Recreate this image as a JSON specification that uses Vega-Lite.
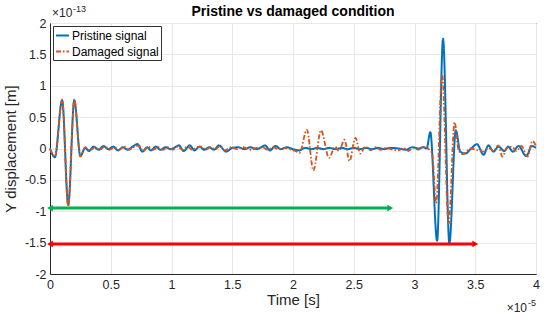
{
  "$schema": "https://vega.github.io/schema/vega-lite/v6.json",
  "width": 486,
  "height": 251,
  "autosize": {"type": "none"},
  "padding": {"left": 50, "top": 23, "right": 14, "bottom": 46},
  "background": "white",
  "title": {"text": "Pristine vs damaged condition", "font": "Liberation Sans", "fontSize": 14, "fontWeight": "bold", "color": "#000000", "offset": 0, "baseline": "alphabetic", "dy": 25},
  "config": {
    "view": {"stroke": "#262626", "strokeWidth": 1},
    "axis": {
      "labelFont": "Liberation Sans", "labelFontSize": 12.5, "labelColor": "#262626",
      "titleFont": "Liberation Sans", "titleFontSize": 15, "titleFontWeight": "normal", "titleColor": "#262626",
      "domainColor": "#262626", "gridColor": "#e8e8e8", "gridWidth": 1,
      "tickColor": "#262626", "tickSize": 4
    },
    "legend": {
      "labelFont": "Liberation Sans", "labelFontSize": 12, "labelColor": "#000000"
    }
  },
  "datasets": {
    "signals": [
      {"series": "Pristine signal", "t": 0, "y": 0},
      {"series": "Pristine signal", "t": 0.04, "y": -0.14},
      {"series": "Pristine signal", "t": 0.1, "y": 0.77},
      {"series": "Pristine signal", "t": 0.15, "y": -0.9},
      {"series": "Pristine signal", "t": 0.2, "y": 0.77},
      {"series": "Pristine signal", "t": 0.25, "y": -0.12},
      {"series": "Pristine signal", "t": 0.29, "y": 0.01},
      {"series": "Pristine signal", "t": 0.32, "y": -0.04},
      {"series": "Pristine signal", "t": 0.36, "y": 0.03},
      {"series": "Pristine signal", "t": 0.4, "y": -0.02},
      {"series": "Pristine signal", "t": 0.44, "y": 0.04},
      {"series": "Pristine signal", "t": 0.48, "y": -0.01},
      {"series": "Pristine signal", "t": 0.52, "y": 0.03},
      {"series": "Pristine signal", "t": 0.56, "y": -0.03},
      {"series": "Pristine signal", "t": 0.6, "y": 0.02},
      {"series": "Pristine signal", "t": 0.64, "y": -0.02},
      {"series": "Pristine signal", "t": 0.68, "y": 0.03},
      {"series": "Pristine signal", "t": 0.72, "y": 0.07},
      {"series": "Pristine signal", "t": 0.76, "y": -0.05},
      {"series": "Pristine signal", "t": 0.8, "y": 0.02},
      {"series": "Pristine signal", "t": 0.83, "y": -0.03},
      {"series": "Pristine signal", "t": 0.87, "y": 0.03},
      {"series": "Pristine signal", "t": 0.91, "y": -0.02},
      {"series": "Pristine signal", "t": 0.95, "y": 0.02},
      {"series": "Pristine signal", "t": 0.99, "y": -0.01},
      {"series": "Pristine signal", "t": 1.03, "y": 0.02},
      {"series": "Pristine signal", "t": 1.06, "y": 0.05},
      {"series": "Pristine signal", "t": 1.1, "y": -0.04},
      {"series": "Pristine signal", "t": 1.15, "y": 0.05},
      {"series": "Pristine signal", "t": 1.19, "y": -0.03},
      {"series": "Pristine signal", "t": 1.23, "y": 0.03},
      {"series": "Pristine signal", "t": 1.27, "y": -0.02},
      {"series": "Pristine signal", "t": 1.31, "y": 0.02},
      {"series": "Pristine signal", "t": 1.35, "y": -0.02},
      {"series": "Pristine signal", "t": 1.39, "y": 0.05},
      {"series": "Pristine signal", "t": 1.45, "y": -0.05},
      {"series": "Pristine signal", "t": 1.5, "y": 0.01},
      {"series": "Pristine signal", "t": 1.55, "y": 0.02},
      {"series": "Pristine signal", "t": 1.6, "y": -0.01},
      {"series": "Pristine signal", "t": 1.65, "y": 0.02},
      {"series": "Pristine signal", "t": 1.7, "y": -0.01},
      {"series": "Pristine signal", "t": 1.74, "y": 0.02},
      {"series": "Pristine signal", "t": 1.77, "y": 0.05},
      {"series": "Pristine signal", "t": 1.81, "y": -0.03},
      {"series": "Pristine signal", "t": 1.855, "y": 0.04},
      {"series": "Pristine signal", "t": 1.9, "y": -0.01},
      {"series": "Pristine signal", "t": 1.95, "y": 0.02},
      {"series": "Pristine signal", "t": 2.0, "y": -0.01},
      {"series": "Pristine signal", "t": 2.05, "y": -0.03},
      {"series": "Pristine signal", "t": 2.1, "y": 0.01},
      {"series": "Pristine signal", "t": 2.15, "y": -0.01},
      {"series": "Pristine signal", "t": 2.2, "y": 0.01},
      {"series": "Pristine signal", "t": 2.25, "y": -0.01},
      {"series": "Pristine signal", "t": 2.3, "y": 0.01},
      {"series": "Pristine signal", "t": 2.35, "y": -0.01},
      {"series": "Pristine signal", "t": 2.4, "y": 0.01},
      {"series": "Pristine signal", "t": 2.45, "y": -0.01},
      {"series": "Pristine signal", "t": 2.5, "y": 0.01},
      {"series": "Pristine signal", "t": 2.55, "y": -0.01},
      {"series": "Pristine signal", "t": 2.6, "y": 0.01},
      {"series": "Pristine signal", "t": 2.65, "y": -0.01},
      {"series": "Pristine signal", "t": 2.7, "y": 0.01},
      {"series": "Pristine signal", "t": 2.75, "y": -0.01},
      {"series": "Pristine signal", "t": 2.8, "y": 0.01},
      {"series": "Pristine signal", "t": 2.87, "y": 0},
      {"series": "Pristine signal", "t": 2.93, "y": -0.02},
      {"series": "Pristine signal", "t": 2.98, "y": 0.02},
      {"series": "Pristine signal", "t": 3.035, "y": 0},
      {"series": "Pristine signal", "t": 3.075, "y": 0.02},
      {"series": "Pristine signal", "t": 3.1, "y": 0},
      {"series": "Pristine signal", "t": 3.13, "y": 0.26},
      {"series": "Pristine signal", "t": 3.186, "y": -1.47},
      {"series": "Pristine signal", "t": 3.235, "y": 1.75},
      {"series": "Pristine signal", "t": 3.287, "y": -1.51},
      {"series": "Pristine signal", "t": 3.34, "y": 0.29},
      {"series": "Pristine signal", "t": 3.377, "y": -0.05},
      {"series": "Pristine signal", "t": 3.418, "y": -0.08},
      {"series": "Pristine signal", "t": 3.467, "y": 0},
      {"series": "Pristine signal", "t": 3.514, "y": 0.07},
      {"series": "Pristine signal", "t": 3.568, "y": -0.1},
      {"series": "Pristine signal", "t": 3.609, "y": 0.05},
      {"series": "Pristine signal", "t": 3.65, "y": -0.05},
      {"series": "Pristine signal", "t": 3.69, "y": 0.03},
      {"series": "Pristine signal", "t": 3.74, "y": -0.04},
      {"series": "Pristine signal", "t": 3.77, "y": 0.03},
      {"series": "Pristine signal", "t": 3.81, "y": -0.05},
      {"series": "Pristine signal", "t": 3.855, "y": 0.04},
      {"series": "Pristine signal", "t": 3.92, "y": -0.12},
      {"series": "Pristine signal", "t": 3.965, "y": 0.04},
      {"series": "Pristine signal", "t": 4.0, "y": 0.01},
      {"series": "Damaged signal", "t": 0, "y": 0},
      {"series": "Damaged signal", "t": 0.04, "y": -0.13},
      {"series": "Damaged signal", "t": 0.1, "y": 0.78},
      {"series": "Damaged signal", "t": 0.15, "y": -0.92},
      {"series": "Damaged signal", "t": 0.2, "y": 0.78},
      {"series": "Damaged signal", "t": 0.25, "y": -0.13},
      {"series": "Damaged signal", "t": 0.29, "y": 0.02},
      {"series": "Damaged signal", "t": 0.33, "y": -0.03},
      {"series": "Damaged signal", "t": 0.37, "y": 0.02},
      {"series": "Damaged signal", "t": 0.41, "y": -0.02},
      {"series": "Damaged signal", "t": 0.45, "y": 0.03},
      {"series": "Damaged signal", "t": 0.49, "y": -0.02},
      {"series": "Damaged signal", "t": 0.53, "y": 0.02},
      {"series": "Damaged signal", "t": 0.57, "y": -0.02},
      {"series": "Damaged signal", "t": 0.61, "y": 0.03},
      {"series": "Damaged signal", "t": 0.65, "y": -0.02},
      {"series": "Damaged signal", "t": 0.69, "y": 0.02},
      {"series": "Damaged signal", "t": 0.73, "y": 0.05},
      {"series": "Damaged signal", "t": 0.77, "y": -0.04},
      {"series": "Damaged signal", "t": 0.81, "y": 0.03},
      {"series": "Damaged signal", "t": 0.85, "y": -0.02},
      {"series": "Damaged signal", "t": 0.89, "y": 0.02},
      {"series": "Damaged signal", "t": 0.93, "y": -0.02},
      {"series": "Damaged signal", "t": 0.97, "y": 0.02},
      {"series": "Damaged signal", "t": 1.01, "y": -0.02},
      {"series": "Damaged signal", "t": 1.05, "y": 0.03},
      {"series": "Damaged signal", "t": 1.09, "y": -0.02},
      {"series": "Damaged signal", "t": 1.13, "y": 0.03},
      {"series": "Damaged signal", "t": 1.17, "y": -0.02},
      {"series": "Damaged signal", "t": 1.21, "y": 0.02},
      {"series": "Damaged signal", "t": 1.25, "y": 0.03},
      {"series": "Damaged signal", "t": 1.28, "y": -0.02},
      {"series": "Damaged signal", "t": 1.32, "y": 0.02},
      {"series": "Damaged signal", "t": 1.36, "y": -0.01},
      {"series": "Damaged signal", "t": 1.4, "y": 0.04},
      {"series": "Damaged signal", "t": 1.44, "y": -0.03},
      {"series": "Damaged signal", "t": 1.49, "y": 0.02},
      {"series": "Damaged signal", "t": 1.54, "y": -0.01},
      {"series": "Damaged signal", "t": 1.59, "y": 0.02},
      {"series": "Damaged signal", "t": 1.63, "y": -0.01},
      {"series": "Damaged signal", "t": 1.66, "y": -0.02},
      {"series": "Damaged signal", "t": 1.7, "y": 0.01},
      {"series": "Damaged signal", "t": 1.75, "y": 0.02},
      {"series": "Damaged signal", "t": 1.79, "y": -0.02},
      {"series": "Damaged signal", "t": 1.84, "y": 0.02},
      {"series": "Damaged signal", "t": 1.88, "y": -0.01},
      {"series": "Damaged signal", "t": 1.93, "y": 0.01},
      {"series": "Damaged signal", "t": 1.97, "y": -0.01},
      {"series": "Damaged signal", "t": 2.02, "y": -0.04},
      {"series": "Damaged signal", "t": 2.054, "y": -0.07},
      {"series": "Damaged signal", "t": 2.114, "y": 0.3},
      {"series": "Damaged signal", "t": 2.168, "y": -0.35},
      {"series": "Damaged signal", "t": 2.23, "y": 0.29},
      {"series": "Damaged signal", "t": 2.297, "y": -0.15},
      {"series": "Damaged signal", "t": 2.346, "y": 0.03},
      {"series": "Damaged signal", "t": 2.378, "y": -0.04},
      {"series": "Damaged signal", "t": 2.424, "y": 0.14},
      {"series": "Damaged signal", "t": 2.465, "y": -0.2},
      {"series": "Damaged signal", "t": 2.514, "y": 0.17},
      {"series": "Damaged signal", "t": 2.554, "y": -0.08},
      {"series": "Damaged signal", "t": 2.595, "y": 0.03},
      {"series": "Damaged signal", "t": 2.64, "y": -0.03},
      {"series": "Damaged signal", "t": 2.68, "y": 0.02},
      {"series": "Damaged signal", "t": 2.72, "y": -0.02},
      {"series": "Damaged signal", "t": 2.77, "y": 0.01},
      {"series": "Damaged signal", "t": 2.82, "y": -0.02},
      {"series": "Damaged signal", "t": 2.87, "y": -0.03},
      {"series": "Damaged signal", "t": 2.91, "y": 0.01},
      {"series": "Damaged signal", "t": 2.95, "y": -0.04},
      {"series": "Damaged signal", "t": 2.99, "y": 0.01},
      {"series": "Damaged signal", "t": 3.03, "y": -0.02},
      {"series": "Damaged signal", "t": 3.075, "y": 0.03},
      {"series": "Damaged signal", "t": 3.117, "y": -0.01},
      {"series": "Damaged signal", "t": 3.145, "y": -0.08},
      {"series": "Damaged signal", "t": 3.178, "y": -0.87},
      {"series": "Damaged signal", "t": 3.227, "y": 1.18},
      {"series": "Damaged signal", "t": 3.281, "y": -1.2},
      {"series": "Damaged signal", "t": 3.33, "y": 0.42},
      {"series": "Damaged signal", "t": 3.363, "y": -0.03},
      {"series": "Damaged signal", "t": 3.4, "y": -0.09},
      {"series": "Damaged signal", "t": 3.46, "y": 0},
      {"series": "Damaged signal", "t": 3.51, "y": -0.02},
      {"series": "Damaged signal", "t": 3.568, "y": -0.05},
      {"series": "Damaged signal", "t": 3.61, "y": 0.01},
      {"series": "Damaged signal", "t": 3.65, "y": -0.04},
      {"series": "Damaged signal", "t": 3.69, "y": 0.05},
      {"series": "Damaged signal", "t": 3.724, "y": -0.13},
      {"series": "Damaged signal", "t": 3.76, "y": 0.01},
      {"series": "Damaged signal", "t": 3.8, "y": 0.03},
      {"series": "Damaged signal", "t": 3.84, "y": -0.04},
      {"series": "Damaged signal", "t": 3.88, "y": 0.04},
      {"series": "Damaged signal", "t": 3.93, "y": -0.13},
      {"series": "Damaged signal", "t": 3.97, "y": 0.12},
      {"series": "Damaged signal", "t": 4.0, "y": 0.04}
    ],
    "arrows": [
      {"arrow": "A", "x0": 0, "x1": 2.8, "y": -0.95},
      {"arrow": "B", "x0": 0, "x1": 3.5, "y": -1.52}
    ],
    "notes": [
      {"key": "yexp", "t": 0, "y": 2},
      {"key": "xexp", "t": 4, "y": -2}
    ]
  },
  "encoding": {
    "x": {"field": "t", "type": "quantitative", "scale": {"domain": [0, 4], "nice": false},
      "axis": {"title": "Time [s]", "values": [0, 0.5, 1, 1.5, 2, 2.5, 3, 3.5, 4], "labelExpr": "replace(format(datum.value, '~g'), '\u2212', '-')", "ticks": false, "labelPadding": 4, "titlePadding": 2, "labelFlush": false}},
    "y": {"field": "y", "type": "quantitative", "scale": {"domain": [-2, 2], "nice": false},
      "axis": {"title": "Y displacement [m]", "values": [-2, -1.5, -1, -0.5, 0, 0.5, 1, 1.5, 2], "labelExpr": "replace(format(datum.value, '~g'), '\u2212', '-')", "ticks": false, "labelPadding": 4, "titlePadding": 6, "labelFlush": false}}
  },
  "layer": [
    {
      "data": {"name": "signals"},
      "transform": [{"filter": "datum.series === 'Pristine signal'"}],
      "mark": {"type": "line", "interpolate": "monotone", "strokeWidth": 2},
      "encoding": {
        "color": {"field": "series", "type": "nominal", "scale": {"domain": ["Pristine signal", "Damaged signal"], "range": ["#0072BD", "#D95319"]},
          "legend": {"title": null, "orient": "top-left", "offset": 3, "padding": 2, "fillColor": "white", "strokeColor": "#333333", "symbolType": "stroke", "symbolStrokeWidth": 2, "symbolSize": 169, "labelOffset": 2, "rowPadding": 2}},
        "strokeDash": {"field": "series", "type": "nominal", "scale": {"domain": ["Pristine signal", "Damaged signal"], "range": [[1, 0], [5, 2, 1.5, 2]]},
          "legend": {"title": null, "orient": "top-left", "offset": 3, "padding": 2, "fillColor": "white", "strokeColor": "#333333", "symbolType": "stroke", "symbolStrokeWidth": 2, "symbolSize": 169, "labelOffset": 2, "rowPadding": 2}}
      }
    },
    {
      "data": {"name": "signals"},
      "transform": [{"filter": "datum.series === 'Damaged signal'"}],
      "mark": {"type": "line", "interpolate": "monotone", "strokeWidth": 1.8},
      "encoding": {
        "color": {"field": "series", "type": "nominal"},
        "strokeDash": {"field": "series", "type": "nominal"}
      }
    },
    {
      "data": {"name": "arrows"},
      "transform": [{"filter": "datum.arrow === 'A'"}],
      "mark": {"type": "rule", "color": "#00B04F", "strokeWidth": 3},
      "encoding": {"x": {"field": "x0", "type": "quantitative"}, "x2": {"field": "x1"}, "y": {"field": "y", "type": "quantitative"}}
    },
    {
      "data": {"name": "arrows"},
      "transform": [{"filter": "datum.arrow === 'B'"}],
      "mark": {"type": "rule", "color": "#FF0000", "strokeWidth": 3},
      "encoding": {"x": {"field": "x0", "type": "quantitative"}, "x2": {"field": "x1"}, "y": {"field": "y", "type": "quantitative"}}
    },
    {
      "data": {"name": "arrows"},
      "transform": [{"filter": "datum.arrow === 'A'"}],
      "mark": {"type": "point", "shape": "triangle-left", "filled": true, "color": "#00B04F", "size": 45, "opacity": 1},
      "encoding": {"x": {"field": "x0", "type": "quantitative"}, "y": {"field": "y", "type": "quantitative"}}
    },
    {
      "data": {"name": "arrows"},
      "transform": [{"filter": "datum.arrow === 'A'"}],
      "mark": {"type": "point", "shape": "triangle-right", "filled": true, "color": "#00B04F", "size": 45, "opacity": 1},
      "encoding": {"x": {"field": "x1", "type": "quantitative"}, "y": {"field": "y", "type": "quantitative"}}
    },
    {
      "data": {"name": "arrows"},
      "transform": [{"filter": "datum.arrow === 'B'"}],
      "mark": {"type": "point", "shape": "triangle-left", "filled": true, "color": "#FF0000", "size": 45, "opacity": 1},
      "encoding": {"x": {"field": "x0", "type": "quantitative"}, "y": {"field": "y", "type": "quantitative"}}
    },
    {
      "data": {"name": "arrows"},
      "transform": [{"filter": "datum.arrow === 'B'"}],
      "mark": {"type": "point", "shape": "triangle-right", "filled": true, "color": "#FF0000", "size": 45, "opacity": 1},
      "encoding": {"x": {"field": "x1", "type": "quantitative"}, "y": {"field": "y", "type": "quantitative"}}
    },
    {
      "data": {"name": "notes"},
      "transform": [{"filter": "datum.key === 'yexp'"}],
      "mark": {"type": "text", "text": "×10", "align": "left", "baseline": "alphabetic", "font": "Liberation Sans", "fontSize": 12, "color": "#262626", "dx": 2, "dy": -6},
      "encoding": {"x": {"field": "t", "type": "quantitative"}, "y": {"field": "y", "type": "quantitative"}}
    },
    {
      "data": {"name": "notes"},
      "transform": [{"filter": "datum.key === 'yexp'"}],
      "mark": {"type": "text", "text": "-13", "align": "left", "baseline": "alphabetic", "font": "Liberation Sans", "fontSize": 9, "color": "#262626", "dx": 23, "dy": -11},
      "encoding": {"x": {"field": "t", "type": "quantitative"}, "y": {"field": "y", "type": "quantitative"}}
    },
    {
      "data": {"name": "notes"},
      "transform": [{"filter": "datum.key === 'xexp'"}],
      "mark": {"type": "text", "text": "×10", "align": "right", "baseline": "alphabetic", "font": "Liberation Sans", "fontSize": 12, "color": "#262626", "dx": -9, "dy": 38},
      "encoding": {"x": {"field": "t", "type": "quantitative"}, "y": {"field": "y", "type": "quantitative"}}
    },
    {
      "data": {"name": "notes"},
      "transform": [{"filter": "datum.key === 'xexp'"}],
      "mark": {"type": "text", "text": "-5", "align": "right", "baseline": "alphabetic", "font": "Liberation Sans", "fontSize": 9, "color": "#262626", "dx": 0, "dy": 32},
      "encoding": {"x": {"field": "t", "type": "quantitative"}, "y": {"field": "y", "type": "quantitative"}}
    }
  ]
}
